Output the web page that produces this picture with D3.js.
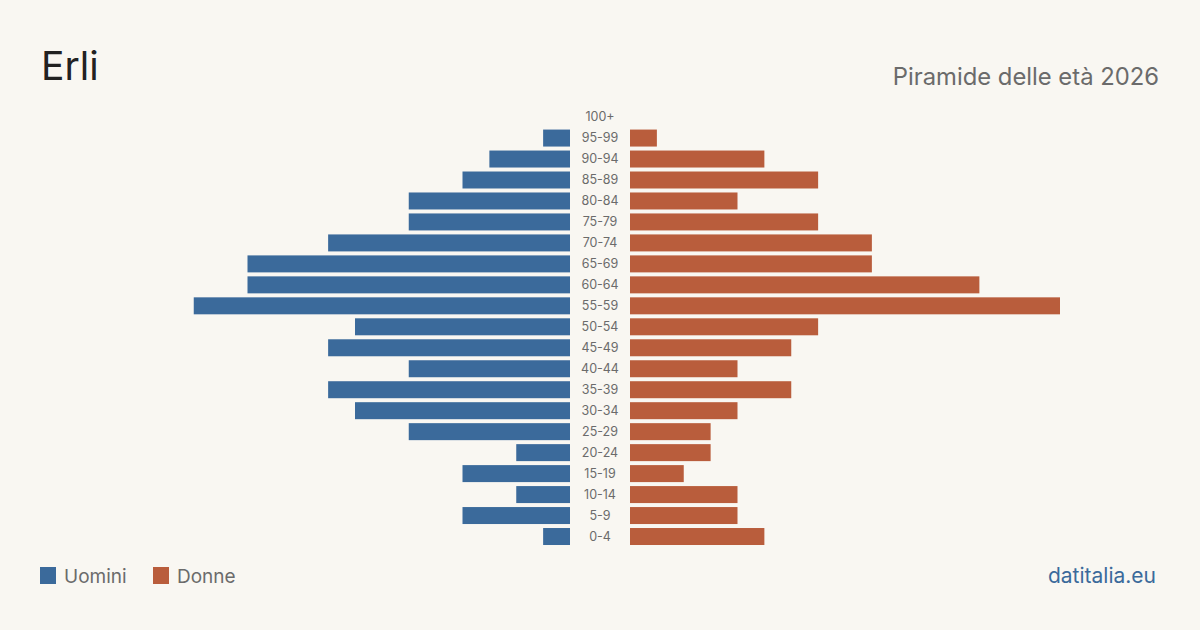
<!DOCTYPE html>
<html>
<head>
<meta charset="utf-8">
<script src="https://cdn.jsdelivr.net/npm/d3@7"></script>
<style>
  body { margin: 0; background: #f9f7f2; }
  svg { display: block; font-family: Inter, "Noto Sans", sans-serif; }
</style>
</head>
<body>
<div class="chart"></div>
<script>
// classi di eta, dall'alto verso il basso
const ageGroups = ["100+", "95-99", "90-94", "85-89", "80-84", "75-79", "70-74", "65-69", "60-64", "55-59",
  "50-54", "45-49", "40-44", "35-39", "30-34", "25-29", "20-24", "15-19", "10-14", "5-9", "0-4"]
const maleValues = [0, 1, 3, 4, 6, 6, 9, 12, 12, 14, 8, 9, 6, 9, 8, 6, 2, 4, 2, 4, 1]
const femaleValues = [0, 1, 5, 7, 4, 7, 9, 9, 13, 16, 7, 6, 4, 6, 4, 3, 3, 2, 4, 4, 5]
const legendLabels = ["Uomini", "Donne"]

const width = 1200, height = 630
const maleColor = "#3b6a9b", femaleColor = "#b95d3c"

const svg = d3.select(".chart").append("svg")
  .attr("width", width)
  .attr("height", height)

svg.append("rect").attr("width", width).attr("height", height).attr("fill", "#f9f7f2")

let maxVal = d3.max(maleValues.concat(femaleValues))

let y = d3.scaleBand()
  .domain(ageGroups)
  .range([106.6, 547])
  .paddingInner(0.19)
  .paddingOuter(0.095)

let xMale = d3.scaleLinear().domain([0, maxVal]).range([570, 140])
let xFemale = d3.scaleLinear().domain([0, maxVal]).range([630, 1060])

svg.append("g").selectAll("rect")
  .data(ageGroups)
  .join("rect")
  .attr("x", (d, i) => xMale(maleValues[i]))
  .attr("y", d => y(d))
  .attr("width", (d, i) => xMale(0) - xMale(maleValues[i]))
  .attr("height", y.bandwidth())
  .attr("fill", maleColor)

svg.append("g").selectAll("rect")
  .data(ageGroups)
  .join("rect")
  .attr("x", xFemale(0))
  .attr("y", d => y(d))
  .attr("width", (d, i) => xFemale(femaleValues[i]) - xFemale(0))
  .attr("height", y.bandwidth())
  .attr("fill", femaleColor)

svg.append("g").selectAll("text")
  .data(ageGroups)
  .join("text")
  .attr("x", 600)
  .attr("y", d => y(d) + y.bandwidth() / 2)
  .attr("dy", "0.35em")
  .attr("text-anchor", "middle")
  .attr("font-size", 12.5)
  .attr("fill", "#6b6b6b")
  .text(d => d)

// titolo e sottotitolo
svg.append("text")
  .attr("x", 41).attr("y", 80)
  .attr("font-size", 39)
  .attr("fill", "#222")
  .text("Erli")

svg.append("text")
  .attr("x", 1159).attr("y", 85)
  .attr("text-anchor", "end")
  .attr("font-size", 23.8)
  .attr("fill", "#6b6b6b")
  .text("Piramide delle età 2026")

// legenda
let legend = svg.append("g")
let legendX = [40, 153]
legendLabels.forEach((lab, i) => {
  legend.append("rect")
    .attr("x", legendX[i]).attr("y", 567)
    .attr("width", 16).attr("height", 17)
    .attr("fill", i === 0 ? maleColor : femaleColor)
  legend.append("text")
    .attr("x", legendX[i] + 24).attr("y", 583)
    .attr("font-size", 19)
    .attr("fill", "#6b6b6b")
    .text(lab)
})

svg.append("text")
  .attr("x", 1156).attr("y", 583)
  .attr("text-anchor", "end")
  .attr("font-size", 21)
  .attr("fill", "#3b6a9b")
  .text("datitalia.eu")
</script>
</body>
</html>
